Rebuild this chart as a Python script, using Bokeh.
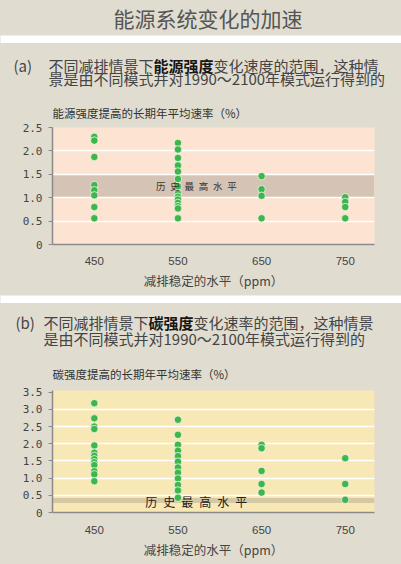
from bokeh.plotting import figure
from bokeh.models import Range1d, FixedTicker, BoxAnnotation, Label, ColumnDataSource
from bokeh.layouts import column
from bokeh.embed import file_html
from bokeh.resources import INLINE

# ---------------- data ----------------
title_text = "能源系统变化的加速"
a_tag = "(a)"
a_line1 = ["不同减排情景下", "能源强度", "变化速度的范围，这种情"]
a_line2 = "景是由不同模式并对1990～2100年模式运行得到的"
a_ytitle = "能源强度提高的长期年平均速率（%）"
b_tag = "(b)"
b_line1 = ["不同减排情景下", "碳强度", "变化速率的范围，这种情景"]
b_line2 = "是由不同模式并对1990～2100年模式运行得到的"
b_ytitle = "碳强度提高的长期年平均速率（%）"
x_title = "减排稳定的水平（ppm）"
band_label = "历 史 最 高 水 平"

levels = [450, 550, 650, 750]
level_labels = ["450", "550", "650", "750"]

a_450 = [2.30, 2.22, 1.87, 1.27, 1.16, 1.05, 0.80, 0.56]
a_550 = [2.17, 2.03, 1.85, 1.69, 1.56, 1.40, 1.24, 1.09, 1.02, 0.96, 0.89, 0.82, 0.77, 0.56]
a_650 = [1.46, 1.18, 1.04, 0.56]
a_750 = [1.01, 0.91, 0.80, 0.56]
a_band = [1.0, 1.5]

b_450 = [3.18, 2.74, 2.50, 2.43, 1.95, 1.74, 1.65, 1.55, 1.46, 1.38, 1.20, 1.11, 0.91]
b_550 = [2.70, 2.26, 1.97, 1.80, 1.64, 1.48, 1.31, 1.16, 0.99, 0.80, 0.64, 0.43]
b_650 = [1.97, 1.87, 1.21, 0.83, 0.58]
b_750 = [1.58, 0.83, 0.37]
b_band = [0.28, 0.42]

a_yticks = [0, 0.5, 1.0, 1.5, 2.0, 2.5]
a_ylabels = ["0", "0.5", "1.0", "1.5", "2.0", "2.5"]
a_grid = [0.5, 1.0, 1.5, 2.0]
b_yticks = [0, 0.5, 1.0, 1.5, 2.0, 2.5, 3.0, 3.5]
b_ylabels = ["0", "0.5", "1.0", "1.5", "2.0", "2.5", "3.0", "3.5"]
b_grid = [0.5, 1.0, 1.5, 2.0, 2.5, 3.0]

# ---------------- style ----------------
BG = "#e0ddd0"
CJK = "Noto Sans CJK SC"
GREEN = "#3fb54b"
TXT = "#444444"
W = 401
LB, RB = 52, 27


def strip(h, fill):
    f = figure(width=W, height=h, x_range=Range1d(0, W), y_range=Range1d(h, 0),
               output_backend="svg", toolbar_location=None, min_border=0,
               x_axis_location=None, y_axis_location=None, frame_align=False)
    f.grid.visible = False
    f.outline_line_color = None
    f.background_fill_color = fill
    f.border_fill_color = fill
    return f


def txt(f, x, y, s, size, color=TXT, align="left", style="normal"):
    f.add_layout(Label(x=x, y=y, text=s, text_font=CJK, text_font_size=size,
                       text_color=color, text_align=align, text_baseline="middle",
                       text_font_style=style))


def chart(h, top_b, bottom_b, yend, yticks, ylabels, gridticks, bg, band, bandcolor,
          series, label_y, label_size, label_color, xstand):
    p = figure(width=W, height=h, x_range=Range1d(400, 785), y_range=Range1d(0, yend),
               output_backend="svg", toolbar_location=None, frame_align=False,
               min_border_left=LB, min_border_right=RB,
               min_border_top=top_b, min_border_bottom=bottom_b)
    p.background_fill_color = bg
    p.border_fill_color = BG
    p.outline_line_color = None
    p.xgrid.visible = False
    p.ygrid.ticker = FixedTicker(ticks=gridticks)
    p.ygrid.grid_line_color = "white"
    p.ygrid.grid_line_width = 1.5

    box = BoxAnnotation(bottom=band[0], top=band[1], fill_color=bandcolor, fill_alpha=1.0,
                        line_color=None, level="underlay")
    p.center = [box] + list(p.center)

    xs, ys = [], []
    for lvl, vals in zip(levels, series):
        xs += [lvl] * len(vals)
        ys += vals
    src = ColumnDataSource(dict(x=xs, y=ys))
    p.scatter("x", "y", source=src, size=7.5, fill_color=GREEN, line_color="white",
              line_width=0.7)

    p.add_layout(Label(x=572, y=label_y, text=band_label.replace(" ", "\u2002"),
                       text_align="center", text_baseline="middle", text_font=CJK,
                       text_font_size=label_size, text_color=label_color))

    for ax in p.axis:
        ax.axis_line_color = "#8a8a8a"
        ax.axis_line_width = 1.5
        ax.minor_tick_line_color = None

    p.xaxis.ticker = FixedTicker(ticks=levels)
    p.xaxis.major_label_overrides = dict(zip(levels, level_labels))
    p.xaxis.major_tick_line_color = None
    p.xaxis.major_label_text_font = "Liberation Sans"
    p.xaxis.major_label_text_font_size = "11.5px"
    p.xaxis.major_label_text_color = TXT
    p.xaxis.major_label_standoff = xstand
    p.xaxis.axis_label = x_title
    p.xaxis.axis_label_text_font = CJK
    p.xaxis.axis_label_text_font_size = "12.5px"
    p.xaxis.axis_label_text_font_style = "normal"
    p.xaxis.axis_label_text_color = TXT
    p.xaxis.axis_label_standoff = 3

    p.yaxis.ticker = FixedTicker(ticks=yticks)
    p.yaxis.major_label_overrides = dict(zip(yticks, ylabels))
    p.yaxis.major_tick_out = 4
    p.yaxis.major_tick_in = 0
    p.yaxis.major_tick_line_color = "#8a8a8a"
    p.yaxis.major_label_standoff = 6
    p.yaxis.major_label_text_font = "DejaVu Sans Mono"
    p.yaxis.major_label_text_font_size = "11px"
    p.yaxis.major_label_text_color = TXT
    return p


# title
ft = strip(33, BG)
txt(ft, 207.5, 17.5, title_text, "21px", color="#555555", align="center")
s1 = strip(10, "white")

# header (a)
ha = strip(77, BG)
ya1, ya2, yat = 21.5, 35, 69.7
txt(ha, 13, ya1, a_tag, "15px")
txt(ha, 48, ya1, a_line1[0], "15px")
txt(ha, 48 + 15 * len(a_line1[0]), ya1, a_line1[1], "15px", color="#151515", style="bold")
txt(ha, 48 + 15 * (len(a_line1[0]) + len(a_line1[1])), ya1, a_line1[2], "15px")
txt(ha, 48, ya2, a_line2, "15px")
txt(ha, 52, yat, a_ytitle, "11.5px", color="#333333")

pa = chart(173, 7, 49, 2.5, a_yticks, a_ylabels, a_grid, "#fde3d1", a_band, "#d5c3b5",
           [a_450, a_550, a_650, a_750], 1.25, "9.5px", "#333333", 6)

s2 = strip(10, "white")

# header (b)
hb = strip(80, BG)
yb1, yb2, ybt = 18.7, 35.3, 70.3
txt(hb, 15, yb1, b_tag, "15px")
txt(hb, 43, yb1, b_line1[0], "15px")
txt(hb, 43 + 15 * len(b_line1[0]), yb1, b_line1[1], "15px", color="#151515", style="bold")
txt(hb, 43 + 15 * (len(b_line1[0]) + len(b_line1[1])), yb1, b_line1[2], "15px")
txt(hb, 43, yb2, b_line2, "15px")
txt(hb, 52, ybt, b_ytitle, "11.5px", color="#333333")

pb = chart(181, 7, 52, 3.55, b_yticks, b_ylabels, b_grid, "#f7e8b6", b_band, "#d5c8a3",
           [b_450, b_550, b_650, b_750], 0.31, "12px", "#222222", 7)

layout = column(ft, s1, ha, pa, s2, hb, pb, spacing=0)
layout.styles = {"background-color": BG}
open("out.html", "w").write(file_html(layout, INLINE))
